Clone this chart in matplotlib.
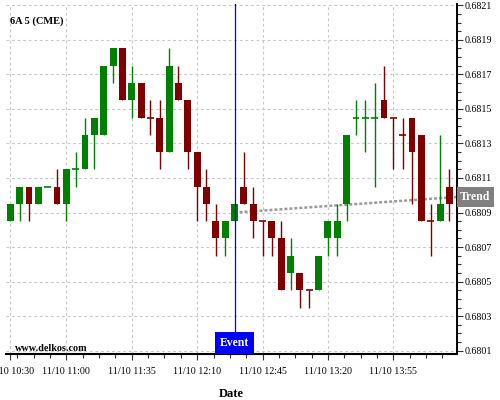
import numpy as np
import pandas as pd
import matplotlib
matplotlib.use("Agg")
import matplotlib.pyplot as plt
import matplotlib.dates as mdates
import matplotlib.transforms as mtransforms
from matplotlib.ticker import FixedLocator, FormatStrFormatter

plt.rcParams['font.family'] = ['Liberation Serif', 'DejaVu Serif']

# 5 minute bars, 6A (CME)
times = pd.date_range('2023-11-10 10:30', periods=48, freq='5min')
opens = [0.68085, 0.68095, 0.68105, 0.68095, 0.68105, 0.68105, 0.68095, 0.68115,
         0.68115, 0.68135, 0.68135, 0.68175, 0.68185, 0.68155, 0.68165, 0.68145,
         0.68145, 0.68125, 0.68165, 0.68155, 0.68125, 0.68105, 0.68085, 0.68075,
         0.68085, 0.68105, 0.68095, 0.68085, 0.68085, 0.68075, 0.68055, 0.68055,
         0.68045, 0.68045, 0.68075, 0.68075, 0.68095, 0.68145, 0.68145, 0.68145,
         0.68155, 0.68145, 0.68135, 0.68145, 0.68135, 0.68085, 0.68085, 0.68105]
highs = [0.68095, 0.68105, 0.68105, 0.68105, 0.68105, 0.68115, 0.68115, 0.68125,
         0.68145, 0.68145, 0.68175, 0.68185, 0.68185, 0.68175, 0.68165, 0.68155,
         0.68155, 0.68185, 0.68175, 0.68155, 0.68125, 0.68115, 0.68095, 0.68085,
         0.68095, 0.68125, 0.68105, 0.68085, 0.68085, 0.68085, 0.68075, 0.68055,
         0.68045, 0.68065, 0.68085, 0.68095, 0.68135, 0.68155, 0.68155, 0.68165,
         0.68175, 0.68145, 0.68145, 0.68145, 0.68135, 0.68095, 0.68135, 0.68115]
lows = [0.68085, 0.68085, 0.68085, 0.68095, 0.68105, 0.68095, 0.68085, 0.68105,
        0.68115, 0.68115, 0.68135, 0.68165, 0.68155, 0.68145, 0.68145, 0.68135,
        0.68115, 0.68125, 0.68155, 0.68115, 0.68085, 0.68085, 0.68065, 0.68065,
        0.68085, 0.68095, 0.68075, 0.68065, 0.68065, 0.68045, 0.68045, 0.68035,
        0.68035, 0.68045, 0.68065, 0.68065, 0.68085, 0.68135, 0.68125, 0.68105,
        0.68145, 0.68115, 0.68115, 0.68095, 0.68085, 0.68065, 0.68085, 0.68085]
closes = [0.68095, 0.68105, 0.68095, 0.68105, 0.68105, 0.68095, 0.68115, 0.68115,
          0.68135, 0.68145, 0.68175, 0.68185, 0.68155, 0.68165, 0.68145, 0.68145,
          0.68125, 0.68175, 0.68155, 0.68125, 0.68105, 0.68095, 0.68075, 0.68085,
          0.68095, 0.68095, 0.68085, 0.68085, 0.68075, 0.68045, 0.68065, 0.68045,
          0.68045, 0.68065, 0.68085, 0.68085, 0.68135, 0.68145, 0.68145, 0.68145,
          0.68145, 0.68145, 0.68135, 0.68125, 0.68085, 0.68085, 0.68095, 0.68095]
green_dojis = [4, 7, 37, 38, 39]

event_time = pd.Timestamp('2023-11-10 12:30')
trend_times = pd.to_datetime(['2023-11-10 12:30', '2023-11-10 14:29'])
trend_vals = [0.68090, 0.68099]

xtick_times = pd.to_datetime(['2023-11-10 10:30', '2023-11-10 11:00', '2023-11-10 11:35',
                              '2023-11-10 12:10', '2023-11-10 12:45', '2023-11-10 13:20',
                              '2023-11-10 13:55'])
xtick_labels = ['11/10 10:30', '11/10 11:00', '11/10 11:35', '11/10 12:10',
                '11/10 12:45', '11/10 13:20', '11/10 13:55']
yticks = [0.6801, 0.6803, 0.6805, 0.6807, 0.6809, 0.6811, 0.6813, 0.6815, 0.6817, 0.6819, 0.6821]

GREEN = '#008000'
RED = '#800000'

x = mdates.date2num(times)
o = np.array(opens)
h = np.array(highs)
l = np.array(lows)
c = np.array(closes)
up = c > o
for i in green_dojis:
    up[i] = True
colors = [GREEN if u else RED for u in up]
day = 1.0 / 1440
width = 3.7 * day

fig = plt.figure(figsize=(5, 4), dpi=100)
ax = fig.add_axes([0.0114, 0.115, 0.902, 0.874])

# trend (under the candles)
ax.plot(mdates.date2num(trend_times), trend_vals, color='#9a9a9a', lw=1.8,
        linestyle=(0, (1.2, 0.8)), zorder=2)

# candles
ax.vlines(x, l, h, colors=colors, lw=1.0, zorder=3)
body = c != o
ax.bar(x[body], (c - o)[body], bottom=o[body], width=width,
       color=np.array(colors)[body], linewidth=0, zorder=4)
doji = ~body
ax.hlines(c[doji], x[doji] - width / 2, x[doji] + width / 2,
          colors=np.array(colors)[doji], lw=1.2, zorder=4)

# event
ex = mdates.date2num(event_time)
ax.axvline(ex, color='#0000ff', lw=0.9, zorder=5)
blend = mtransforms.blended_transform_factory(ax.transData, ax.transAxes)
ax.text(ex, 0.014, 'Event', transform=blend, ha='center', va='bottom',
        color='white', fontsize=8.5, fontweight='bold', zorder=6,
        bbox=dict(boxstyle='square,pad=0.4', fc='#0000ff', ec='none'))

blend2 = mtransforms.blended_transform_factory(ax.transAxes, ax.transData)
ax.text(1.008, trend_vals[-1], 'Trend', transform=blend2, ha='left', va='center',
        color='white', fontsize=8.5, fontweight='bold', clip_on=False,
        bbox=dict(boxstyle='square,pad=0.3', fc='#808080', ec='none'))

# axes
t0 = mdates.date2num(pd.Timestamp('2023-11-10 10:30'))
ax.set_xlim(t0 - 2.46 * day, t0 + 238.9 * day)
ax.set_ylim(0.680081, 0.682105)

ax.xaxis.set_major_locator(FixedLocator(mdates.date2num(xtick_times)))
ax.set_xticklabels(xtick_labels)
t11 = mdates.date2num(pd.Timestamp('2023-11-10 11:00'))
ax.xaxis.set_minor_locator(FixedLocator(t11 + np.arange(-3, 25) * 8.75 * day))

ax.yaxis.tick_right()
ax.yaxis.set_major_locator(FixedLocator(yticks))
ax.yaxis.set_minor_locator(FixedLocator(np.arange(0.68010, 0.68212, 0.00005)))
ax.yaxis.set_major_formatter(FormatStrFormatter('%.4f'))

ax.tick_params(axis='both', which='both', direction='out', labelsize=7.2,
               color='#333333', width=0.8)
ax.tick_params(axis='both', which='major', length=4)
ax.tick_params(axis='both', which='minor', length=3)
ax.tick_params(axis='y', pad=1.5)
ax.tick_params(axis='x', pad=5)

for s in ['left', 'top']:
    ax.spines[s].set_visible(False)
ax.spines['right'].set_linewidth(1.4)
ax.spines['bottom'].set_linewidth(1.5)

ax.grid(True, which='major', linestyle=(0, (2.5, 2.5)), color='#c8c8c8', lw=0.8)
ax.set_axisbelow(True)

ax.set_xlabel('Date', fontsize=9, fontweight='bold', labelpad=9)

fig.text(0.02, 1 - 24 / 400, '6A 5 (CME)', fontsize=7.5, fontweight='bold',
         ha='left', va='baseline')
fig.text(0.03, 1 - 351 / 400, 'www.delkos.com', fontsize=7.3, fontweight='bold',
         ha='left', va='baseline')

fig.savefig('out.png', dpi=100)
